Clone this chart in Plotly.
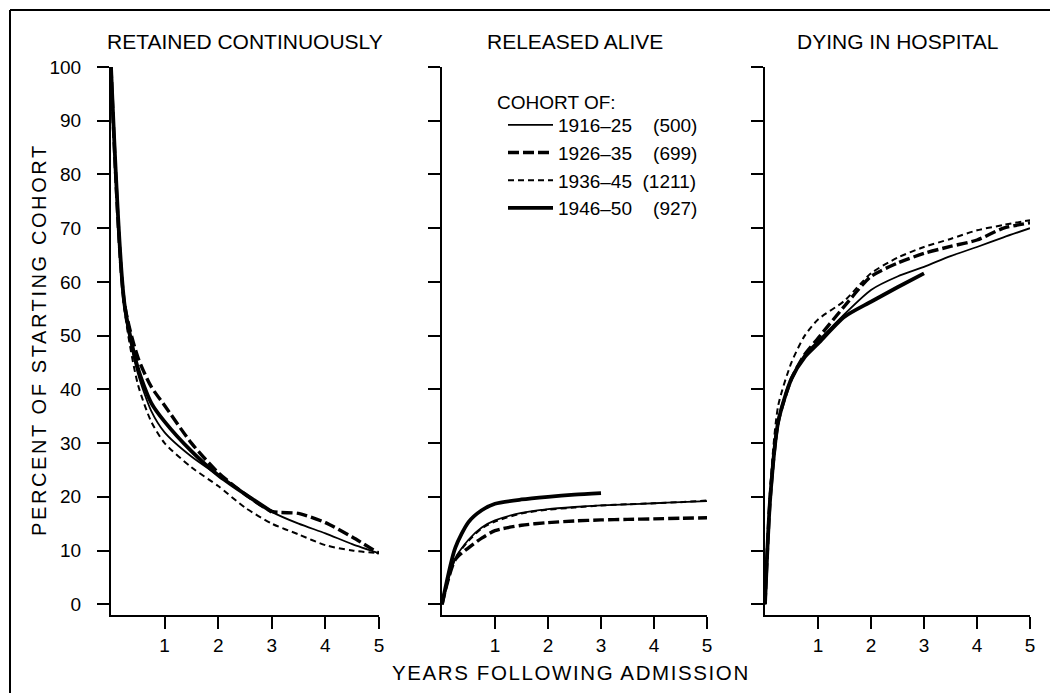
import plotly.graph_objects as go

# Cohort labels (legend) and line styles
COHORTS = ["1916–25", "1926–35", "1936–45", "1946–50"]
COHORT_N = ["(500)", "(699)", "(1211)", "(927)"]

# Years following admission for each panel
RETAINED_YEARS = [0, 0.25, 0.5, 0.75, 1, 1.5, 2, 2.5, 3, 3.5, 4, 4.5, 5]
RELEASED_YEARS = [0, 0.25, 0.5, 0.75, 1, 1.5, 2, 2.5, 3, 3.5, 4, 4.5, 5]
DYING_YEARS = [0, 0.1, 0.25, 0.5, 0.75, 1, 1.5, 2, 2.5, 3, 3.5, 4, 4.5, 5]

# Percent of starting cohort retained continuously
retained_1916 = [100, 55, 43, 36, 32, 27.5, 24, 20.5, 17.2, 15, 13.2, 11.2, 9.5]
retained_1926 = [100, 56, 46, 40.5, 37, 30, 24.5, 20.5, 17.3, 16.9, 15.2, 12.5, 9.5]
retained_1936 = [100, 55, 41, 34, 30, 25.5, 22, 18, 15, 13, 11, 10, 9.5]
retained_1946 = [100, 56, 44, 37.5, 34, 28.5, 24, 20.5, 17.2]

# Percent of starting cohort released alive
released_1916 = [0, 8.5, 12, 14.3, 15.6, 17, 17.7, 18.1, 18.4, 18.6, 18.8, 19, 19.2]
released_1926 = [0, 8.3, 10.5, 12.3, 13.7, 14.7, 15.2, 15.5, 15.7, 15.8, 15.9, 16, 16.1]
released_1936 = [0, 8.5, 11.8, 14.1, 15.4, 16.9, 17.6, 18, 18.4, 18.6, 18.8, 19, 19.3]
released_1946 = [0, 10.5, 15.3, 17.5, 18.7, 19.5, 20, 20.4, 20.7]

# Percent of starting cohort dying in hospital
dying_1916 = [0, 20, 34, 42, 46.5, 49, 54, 58.5, 61, 62.8, 64.8, 66.5, 68.3, 70]
dying_1926 = [0, 20, 34, 42, 46.5, 49.5, 55.5, 61, 63.5, 65.3, 66.6, 67.8, 70, 71]
dying_1936 = [0, 22, 37, 45, 50, 53, 56.5, 61.6, 64.5, 66.5, 68, 69.6, 70.6, 71.5]
dying_1946 = [0, 20, 34, 42, 46, 48.5, 53.5, 56.3, 59, 61.6]

PANEL_TITLES = ["RETAINED CONTINUOUSLY", "RELEASED ALIVE", "DYING IN HOSPITAL"]
X_TITLE = "YEARS FOLLOWING ADMISSION"
Y_TITLE = "PERCENT OF STARTING COHORT"
LEGEND_TITLE = "COHORT OF:"
X_TICKS = [1, 2, 3, 4, 5]
Y_TICKS = [0, 10, 20, 30, 40, 50, 60, 70, 80, 90, 100]

panels = [
    (RETAINED_YEARS, [retained_1916, retained_1926, retained_1936, retained_1946]),
    (RELEASED_YEARS, [released_1916, released_1926, released_1936, released_1946]),
    (DYING_YEARS, [dying_1916, dying_1926, dying_1936, dying_1946]),
]

line_styles = [
    dict(color="black", width=1.8, dash="solid"),
    dict(color="black", width=3.4, dash="11px,4px"),
    dict(color="black", width=2.0, dash="6px,4px"),
    dict(color="black", width=3.8, dash="solid"),
]

W, H = 1050, 693
FONT = "Liberation Sans, Arial, sans-serif"


def px_x(p):
    return p / W


def px_y(p):
    return 1 - p / H


def spaced(text, px):
    return f'<span style="letter-spacing:{px}px">{text}</span>'


x_domains = [(111, 379), (442, 707), (765, 1030)]
y_domain = [px_y(615), px_y(67)]

fig = go.Figure()

for pi, (years, series) in enumerate(panels):
    xa = "x" if pi == 0 else f"x{pi + 1}"
    ya = "y" if pi == 0 else f"y{pi + 1}"
    for ci, vals in enumerate(series):
        pad = chr(160) * (2 if len(COHORT_N[ci]) == 6 else 4)
        fig.add_trace(go.Scatter(
            x=years[:len(vals)], y=vals, mode="lines",
            line=dict(shape="spline", smoothing=0.7, **line_styles[ci]),
            name=f"{COHORTS[ci]}{pad}{COHORT_N[ci]}",
            legendgroup=COHORTS[ci], showlegend=(pi == 0),
            xaxis=xa, yaxis=ya, hoverinfo="skip",
        ))

axis_common = dict(
    showline=True, linecolor="black", linewidth=2.2,
    ticks="outside", tickcolor="black", tickwidth=2, ticklen=12,
    showgrid=False, zeroline=False, automargin=False,
    tickfont=dict(family=FONT, size=19, color="black"),
)

layout = dict(
    width=W, height=H,
    margin=dict(l=0, r=0, t=0, b=0, autoexpand=False),
    paper_bgcolor="white", plot_bgcolor="white",
    font=dict(family=FONT, size=19, color="black"),
    showlegend=True,
    legend=dict(
        x=px_x(503), y=px_y(106), xanchor="left", yanchor="top",
        font=dict(size=19), bgcolor="rgba(0,0,0,0)",
        traceorder="grouped", tracegroupgap=0, itemwidth=45,
    ),
)

for pi in range(3):
    sx = "" if pi == 0 else str(pi + 1)
    layout[f"xaxis{sx}"] = dict(
        axis_common, domain=[px_x(x_domains[pi][0]), px_x(x_domains[pi][1])],
        range=[0, 5], tickvals=X_TICKS, ticktext=[str(t) for t in X_TICKS],
        anchor=f"y{sx}", ticklabelstandoff=0,
    )
    layout[f"yaxis{sx}"] = dict(
        axis_common, domain=y_domain, range=[-2, 100],
        tickvals=Y_TICKS, ticktext=[str(t) for t in Y_TICKS],
        showticklabels=(pi == 0), anchor=f"x{sx}", ticklabelstandoff=12,
    )

fig.update_layout(**layout)

annotations = []
for pi, title in enumerate(PANEL_TITLES):
    cx = (x_domains[pi][0] + x_domains[pi][1]) / 2
    annotations.append(dict(
        text=title, x=px_x(cx), y=px_y(41), xref="paper", yref="paper",
        showarrow=False, xanchor="center", yanchor="middle",
        font=dict(family=FONT, size=21, color="black"),
    ))
annotations.append(dict(
    text=spaced(X_TITLE, 1.6), x=px_x(571), y=px_y(672),
    xref="paper", yref="paper", showarrow=False,
    xanchor="center", yanchor="middle",
    font=dict(family=FONT, size=20.5, color="black"),
))
annotations.append(dict(
    text=spaced(Y_TITLE, 2.6), x=px_x(39), y=px_y(340),
    xref="paper", yref="paper", showarrow=False, textangle=-90,
    xanchor="center", yanchor="middle",
    font=dict(family=FONT, size=20, color="black"),
))
annotations.append(dict(
    text=LEGEND_TITLE, x=px_x(495), y=px_y(102),
    xref="paper", yref="paper", showarrow=False,
    xanchor="left", yanchor="middle",
    font=dict(family=FONT, size=19, color="black"),
))
fig.update_layout(annotations=annotations)

# Frame around the figure (left and top edges)
fig.add_shape(type="line", xref="paper", yref="paper",
              x0=px_x(10), x1=px_x(10), y0=0, y1=px_y(10),
              line=dict(color="black", width=2))
fig.add_shape(type="line", xref="paper", yref="paper",
              x0=px_x(10), x1=1, y0=px_y(10), y1=px_y(10),
              line=dict(color="black", width=2))

fig.write_html("out.html")
